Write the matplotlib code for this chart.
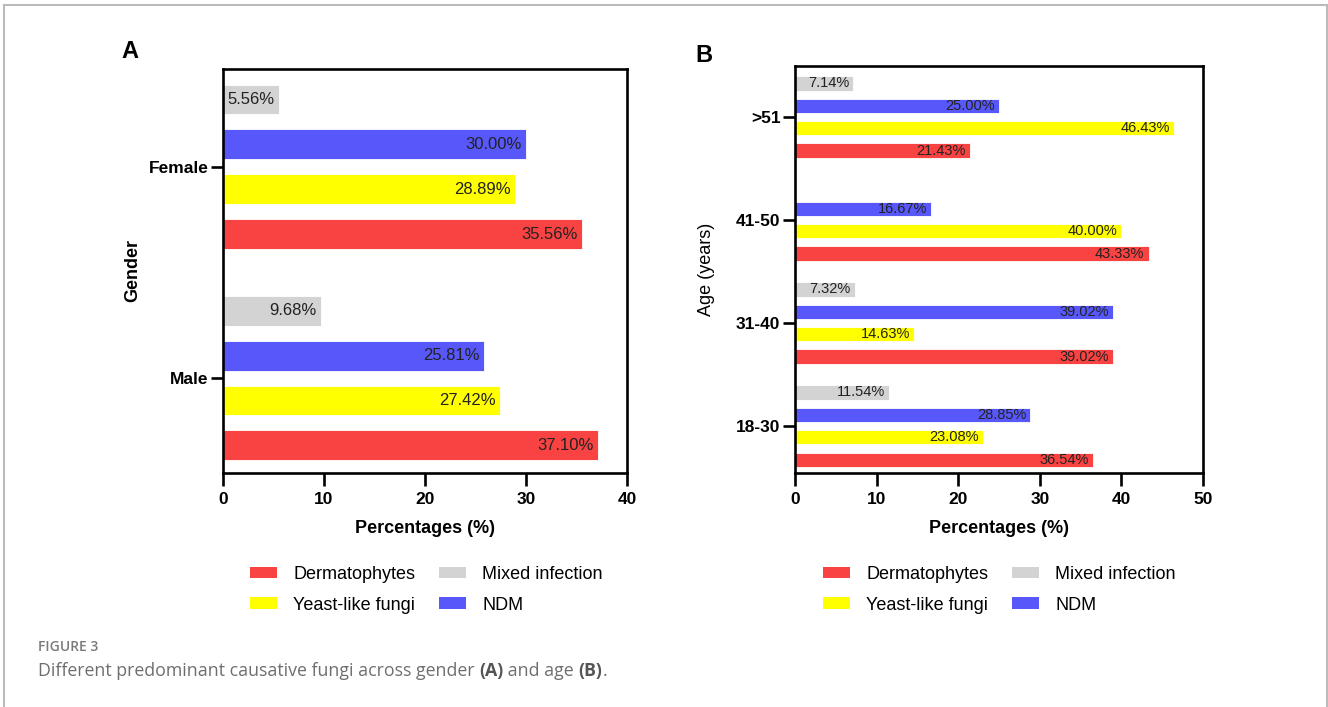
"""Predominant causative fungi across gender (A) and age (B)."""

import numpy as np
import matplotlib
matplotlib.use("Agg")
import matplotlib.pyplot as plt
from matplotlib.patches import Patch
from matplotlib.lines import Line2D

plt.rcParams["font.family"] = ["Liberation Sans", "DejaVu Sans"]

# data
series = ["Dermatophytes", "Yeast-like fungi", "NDM", "Mixed infection"]
colors = ["#F94343", "#FFFF00", "#5858FA", "#D3D3D3"]

gender = ["Male", "Female"]
gender_derm = [37.10, 35.56]
gender_yeast = [27.42, 28.89]
gender_ndm = [25.81, 30.00]
gender_mixed = [9.68, 5.56]

age = ["18-30", "31-40", "41-50", ">51"]
age_derm = [36.54, 39.02, 43.33, 21.43]
age_yeast = [23.08, 14.63, 40.00, 46.43]
age_ndm = [28.85, 39.02, 16.67, 25.00]
age_mixed = [11.54, 7.32, 0.0, 7.14]

W, H = 1328, 707
fig = plt.figure(figsize=(W / 100, H / 100), dpi=100)


def panel(rect, cats, vals, step, height, ylim, xmax, xticks, lab_fs, ylabel, ylab_w):
    ax = fig.add_axes(rect)
    y = np.arange(len(cats))
    for i, (v, c) in enumerate(zip(vals, colors)):
        pos = y + (i - 1.5) * step
        ax.barh(pos, v, height=height, color=c, edgecolor="white", linewidth=0.6)
        for p, val in zip(pos, v):
            if val <= 0:
                continue
            ax.annotate(f"{val:.2f}%", (val, p), xytext=(-3, 0), textcoords="offset points",
                        ha="right", va="center", fontsize=lab_fs, color="#222222")
    ax.set_xlim(0, xmax)
    ax.set_ylim(*ylim)
    ax.set_xticks(xticks)
    ax.set_yticks(y)
    ax.set_yticklabels(cats)
    for s in ax.spines.values():
        s.set_linewidth(1.9)
    ax.tick_params(length=9, width=1.9, labelsize=12.5)
    ax.tick_params(axis="x", pad=4.5)
    ax.tick_params(axis="y", pad=1.5)
    for t in ax.get_xticklabels() + ax.get_yticklabels():
        t.set_fontweight("bold")
    ax.set_xlabel("Percentages (%)", fontsize=13, fontweight="bold", labelpad=9.5)
    ax.set_ylabel(ylabel, fontsize=13, fontweight=ylab_w)
    return ax


axA = panel([223 / W, 1 - 473 / H, 404 / W, 404 / H], gender,
            [gender_derm, gender_yeast, gender_ndm, gender_mixed],
            0.213, 0.142, (-0.45, 1.464), 40, [0, 10, 20, 30, 40], 12, "Gender", "bold")
axA.yaxis.set_label_coords(-0.203, 0.5)

axB = panel([795 / W, 1 - 473 / H, 408 / W, 407 / H], age,
            [age_derm, age_yeast, age_ndm, age_mixed],
            0.218, 0.14, (-0.456, 3.495), 50, [0, 10, 20, 30, 40, 50], 10.5, "Age (years)", "normal")
axB.yaxis.set_label_coords(-0.196, 0.5)

fig.text(130 / W, 1 - 52 / H, "A", fontsize=17, fontweight="bold", ha="center", va="center")
fig.text(704 / W, 1 - 55 / H, "B", fontsize=17, fontweight="bold", ha="center", va="center")

# legends: rows (Dermatophytes, Mixed infection) / (Yeast-like fungi, NDM)
handles = [Patch(facecolor=c, edgecolor="none") for c in colors]
order = [0, 1, 3, 2]
for x0 in (250, 823):
    fig.legend([handles[i] for i in order], [series[i] for i in order], ncol=2,
               loc="upper left", bbox_to_anchor=(x0 / W, 1 - 566 / H), frameon=False,
               fontsize=13, handlelength=1.5, handleheight=0.6, handletextpad=0.9,
               columnspacing=1.3, labelspacing=0.75, borderpad=0, borderaxespad=0)

# caption + frame
cap = fig.add_axes([0, 0, 1, 1])
cap.axis("off")
cap.set_xlim(0, W)
cap.set_ylim(H, 0)
for xs, ys in [((3.5, 3.5), (H, 4.5)), ((3.5, 1326.5), (4.5, 4.5)), ((1326.5, 1326.5), (4.5, H))]:
    cap.add_line(Line2D(xs, ys, color="#BBBBBB", lw=1.5))
cap.text(38, 647, "FIGURE 3", fontsize=10, color="#7A7A7A", fontfamily="Open Sans",
         fontweight="semibold", va="center", ha="left")
parts = [("Different predominant causative fungi across gender ", "normal", "#6E6E6E"),
         ("(A)", "bold", "#555555"), (" and age ", "normal", "#6E6E6E"),
         ("(B)", "bold", "#555555"), (".", "normal", "#6E6E6E")]
prev = None
for txt, w, c in parts:
    kw = dict(fontsize=12.8, color=c, fontweight=w, fontfamily="Open Sans", ha="left", va="bottom")
    if prev is None:
        prev = cap.annotate(txt, (38, 680), xycoords="data", **kw)
    else:
        prev = cap.annotate(txt, (1, 0), xycoords=prev, **kw)

fig.savefig("out.png", dpi=100)
